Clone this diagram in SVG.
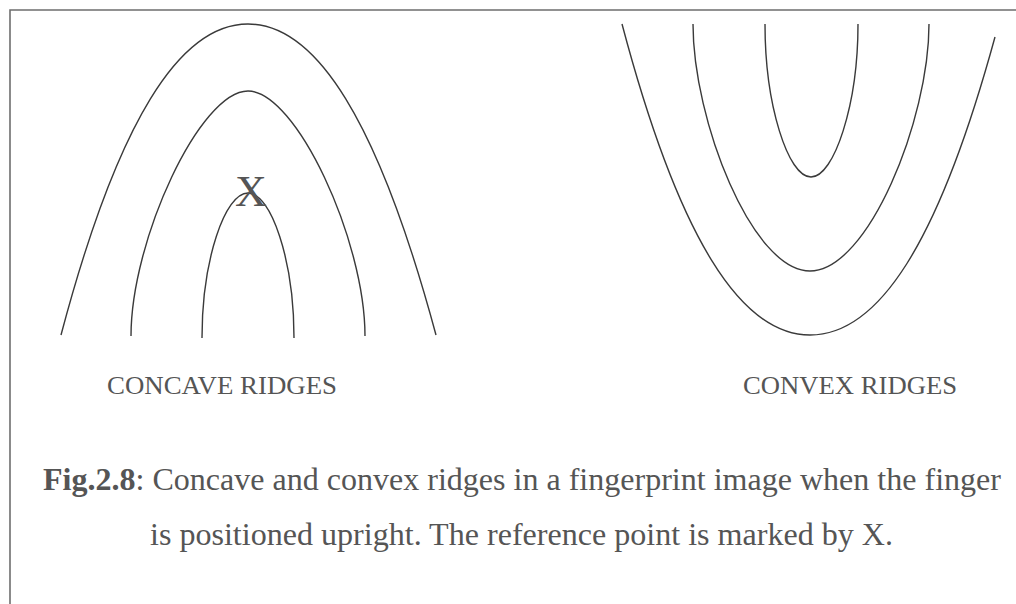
<svg xmlns="http://www.w3.org/2000/svg" width="1016" height="604" viewBox="0 0 1016 604">
<style>
.frame{fill:none;stroke:#6e6e6e;stroke-width:1.6}
.ridge{fill:none;stroke:#3a3a3a;stroke-width:1.4}
.lbl{font-family:"Liberation Serif","Times New Roman",serif;fill:#555;font-size:26px}
.cap{font-family:"Liberation Serif","Times New Roman",serif;fill:#555;font-size:32px}
.mark{font-family:"Liberation Serif","Times New Roman",serif;fill:#555;font-size:44px}
</style>
<rect width="1016" height="604" fill="#fff"/>
<path class="frame" d="M10 604 L10 10 L1016 10"/>
<g id="concave">
<path class="ridge" d="M61 335 C118 120 180 24 248 24 C316 24 378 120 436 335"/>
<path class="ridge" d="M131 336 C131 240 200 91 248 91 C296 91 365 240 365 336"/>
<path class="ridge" d="M202 338 C202 260 225 193 248 193 C271 193 294 260 294 338"/>
<text class="mark" x="251" y="206" text-anchor="middle">X</text>
</g>
<g id="convex">
<path class="ridge" d="M622 24 C679 239 741 335 810 335 C878 335 938 245 995 37"/>
<path class="ridge" d="M693 24 C693 120 752 271 810 271 C868 271 929 120 929 24"/>
<path class="ridge" d="M765 24 C765 105 788 177 811 177 C834 177 858 105 858 24"/>
</g>
<g id="labels">
<text class="lbl" x="107" y="394" textLength="230" lengthAdjust="spacingAndGlyphs">CONCAVE RIDGES</text>
<text class="lbl" x="743" y="394" textLength="214" lengthAdjust="spacingAndGlyphs">CONVEX RIDGES</text>
</g>
<g id="caption">
<text class="cap" x="43" y="490" textLength="958" lengthAdjust="spacingAndGlyphs"><tspan font-weight="bold">Fig.2.8</tspan>: Concave and convex ridges in a fingerprint image when the finger</text>
<text class="cap" x="150" y="545" textLength="743" lengthAdjust="spacingAndGlyphs">is positioned upright. The reference point is marked by X.</text>
</g>
</svg>
